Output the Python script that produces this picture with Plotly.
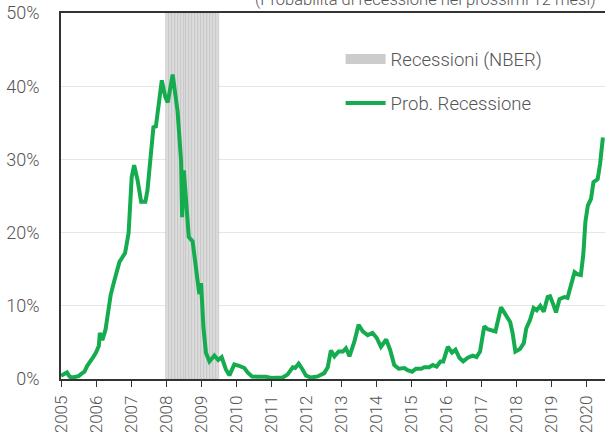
import plotly.graph_objects as go

# Probability of recession (%) – dates as decimal years
dates = [
    2005.00, 2005.08, 2005.17, 2005.25, 2005.33, 2005.42, 2005.50, 2005.58, 2005.67, 2005.75, 2005.83, 2005.92,
    2006.00, 2006.08, 2006.11, 2006.18, 2006.27, 2006.33, 2006.42, 2006.50, 2006.58, 2006.67, 2006.75, 2006.83, 2006.93,
    2007.02, 2007.09, 2007.19, 2007.29, 2007.41, 2007.47, 2007.55, 2007.64, 2007.71, 2007.81, 2007.88, 2007.98,
    2008.05, 2008.19, 2008.27, 2008.33, 2008.43, 2008.46, 2008.51, 2008.56, 2008.65, 2008.76, 2008.90, 2008.95,
    2009.00, 2009.07, 2009.14, 2009.24, 2009.38, 2009.49, 2009.59, 2009.71, 2009.81, 2009.95,
    2010.09, 2010.24, 2010.33, 2010.46, 2010.62, 2010.86,
    2011.00, 2011.33, 2011.47, 2011.62, 2011.69, 2011.79, 2011.90,
    2012.00, 2012.14, 2012.33, 2012.52, 2012.62, 2012.71, 2012.81, 2012.93,
    2013.05, 2013.14, 2013.24, 2013.38, 2013.50, 2013.62, 2013.76, 2013.90,
    2014.02, 2014.14, 2014.29, 2014.40, 2014.52, 2014.65, 2014.81, 2014.90,
    2015.03, 2015.14, 2015.29, 2015.38, 2015.52, 2015.62, 2015.73, 2015.84, 2015.92,
    2016.05, 2016.17, 2016.27, 2016.38, 2016.49, 2016.62, 2016.76, 2016.87, 2016.97,
    2017.09, 2017.19, 2017.41, 2017.57, 2017.71, 2017.83, 2017.90, 2017.98,
    2018.11, 2018.22, 2018.29, 2018.40, 2018.50, 2018.59, 2018.69, 2018.79, 2018.90, 2018.97,
    2019.07, 2019.14, 2019.24, 2019.38, 2019.47, 2019.57, 2019.67, 2019.76, 2019.85, 2019.92, 2019.98,
    2020.05, 2020.14, 2020.21, 2020.33, 2020.40, 2020.48,
]
prob = [
    0.45, 0.6, 0.9, 0.3, 0.2, 0.3, 0.4, 0.7, 1.0, 1.8, 2.3, 3.0,
    3.6, 4.5, 6.3, 5.3, 6.7, 9.0, 11.5, 13.0, 14.5, 16.0, 16.6, 17.2, 19.9,
    27.6, 29.2, 27.1, 24.2, 24.2, 25.8, 30.0, 34.4, 34.5, 38.0, 40.8, 38.5,
    37.8, 41.6, 38.5, 36.6, 29.8, 22.1, 28.5, 25.0, 19.4, 18.8, 12.8, 11.6,
    13.1, 7.0, 3.6, 2.4, 3.2, 2.6, 3.0, 1.3, 0.5, 2.0,
    1.8, 1.5, 0.9, 0.35, 0.3, 0.3,
    0.15, 0.2, 0.6, 1.6, 1.5, 2.1, 1.3,
    0.45, 0.2, 0.35, 0.8, 1.6, 3.9, 3.1, 3.75,
    3.75, 4.2, 3.1, 5.1, 7.4, 6.5, 6.0, 6.3,
    5.6, 4.4, 5.4, 4.0, 1.9, 1.4, 1.5, 1.2,
    1.0, 1.4, 1.4, 1.6, 1.6, 1.9, 1.7, 2.4, 2.4,
    4.4, 3.6, 4.0, 2.9, 2.4, 2.9, 3.2, 3.0, 3.75,
    7.2, 6.8, 6.5, 9.8, 8.75, 7.8, 6.3, 3.75,
    4.1, 4.9, 6.9, 8.1, 9.7, 9.4, 10.0, 9.2, 11.2, 11.3,
    10.1, 9.1, 10.9, 11.2, 11.1, 12.8, 14.6, 14.3, 14.2, 17.0, 21.5,
    23.7, 24.6, 26.9, 27.3, 29.4, 33.0,
]

# NBER recession months (Dec 2007 - Jun 2009), as decimal-year month starts
recession_months = [2008.0 + i / 12 for i in range(18)]
recession_level = [50] * len(recession_months)

year_ticks = list(range(2005, 2021))
y_ticks = [0, 10, 20, 30, 40, 50]

title_text = "(Probabilità di recessione nei prossimi 12 mesi)"

FONT = "Roboto"
TXT = "#555555"

fig = go.Figure()
fig.add_trace(go.Bar(
    x=[m + 1 / 24 for m in recession_months], y=recession_level, width=1 / 12,
    marker=dict(color="#dcdcdc", line=dict(color="#bdbdbd", width=0.6)),
    showlegend=False, hoverinfo="skip",
))
fig.add_trace(go.Scatter(
    x=[None], y=[None], mode="lines", name="Recessioni (NBER)",
    line=dict(color="#cccccc", width=10), legendgroup="a",
))
fig.add_trace(go.Scatter(
    x=dates, y=prob, mode="lines", name="Prob. Recessione",
    line=dict(color="#14ac4e", width=4), legendgroup="b",
))

fig.update_layout(
    width=605, height=432,
    margin=dict(l=61, r=0, t=13, b=53, autoexpand=False),
    paper_bgcolor="white", plot_bgcolor="white",
    font=dict(family=FONT, size=18, color=TXT, weight=300),
    bargap=0,
    legend=dict(
        x=0.514, y=0.925, xanchor="left", yanchor="top",
        bgcolor="rgba(0,0,0,0)", tracegroupgap=17,
        font=dict(family=FONT, size=18.5, color=TXT, weight=300), itemwidth=40,
    ),
    annotations=[dict(
        text=title_text, xref="paper", yref="paper", x=0.67, y=1.006,
        xanchor="center", yanchor="bottom", showarrow=False,
        font=dict(family=FONT, size=16.5, color=TXT, weight=300),
    )],
)
fig.update_xaxes(
    range=[2005, 2020.54], tickvals=year_ticks, ticktext=[str(y) for y in year_ticks],
    tickangle=-90, ticks="outside", ticklen=6, tickcolor="#333333", tickwidth=1.2,
    showline=True, linecolor="#333333", linewidth=1.5, mirror=True,
    showgrid=False, zeroline=False, automargin=False, ticklabelstandoff=2,
    tickfont=dict(family=FONT, size=17, color=TXT, weight=300),
)
fig.update_yaxes(
    range=[0, 50], tickvals=y_ticks, ticktext=[f"{v}%" for v in y_ticks],
    showline=True, linecolor="#333333", linewidth=1.5,
    showgrid=True, gridcolor="#e6e6e6", gridwidth=1, zeroline=False,
    ticks="", ticklabelstandoff=16, automargin=False,
    tickfont=dict(family=FONT, size=18, color=TXT, weight=300),
)

fig.write_html(
    "out.html",
    config={"displayModeBar": False},
    post_script="document.body.style.margin='0';document.body.style.overflow='hidden';",
)
